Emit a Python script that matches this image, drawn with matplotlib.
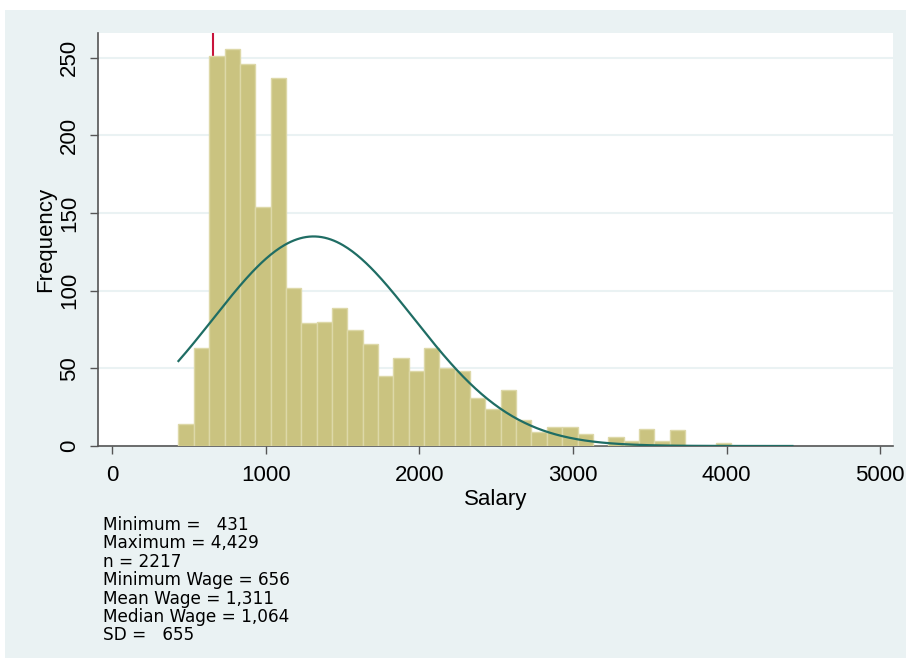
import numpy as np
import matplotlib
matplotlib.use("Agg")
import matplotlib.pyplot as plt
from matplotlib.patches import Rectangle

# ---- data ----
sal_min = 431
sal_max = 4429
n_obs = 2217
min_wage = 656
mean_wage = 1311
median_wage = 1064
sd_wage = 655
n_bins = 40
counts = [14, 63, 251, 256, 246, 154, 237, 102, 79, 80,
          89, 75, 66, 45, 57, 48, 63, 50, 48, 31,
          24, 36, 17, 9, 12, 12, 8, 0, 6, 3,
          11, 3, 10, 0, 0, 2, 0, 0, 0, 0]
xticks = [0, 1000, 2000, 3000, 4000, 5000]
yticks = [0, 50, 100, 150, 200, 250]
stats_lines = ["Minimum =   431", "Maximum = 4,429", "n = 2217",
               "Minimum Wage = 656", "Mean Wage = 1,311",
               "Median Wage = 1,064", "SD =   655"]

BG = "#EAF2F3"
BAR = "#CAC380"
BAR_EDGE = "#DDD8A8"
CURVE = "#1F6D64"
RED = "#C8143C"
AXC = "#555555"

W, H = 911, 661
fig = plt.figure(figsize=(W / 100, H / 100), dpi=100, facecolor="white")
fig.patches.append(Rectangle((5 / W, 3 / H), 901 / W, 648 / H,
                             transform=fig.transFigure, facecolor=BG,
                             edgecolor="none", zorder=-10))

ax = fig.add_axes([98 / W, 1 - 446 / H, (893 - 98) / W, (446 - 33) / H])
ax.set_zorder(1)
ax.set_facecolor("white")
ax.set_axisbelow(True)

bw = (sal_max - sal_min) / n_bins
edges = sal_min + bw * np.arange(n_bins + 1)
ax.bar(edges[:-1], counts, width=bw, align="edge", color=BAR,
       edgecolor=BAR_EDGE, linewidth=1.0, zorder=3)

# normal density overlay (fitted from mean / sd)
xs = np.linspace(sal_min, sal_max, 400)
ys = n_obs * bw * np.exp(-0.5 * ((xs - mean_wage) / sd_wage) ** 2) / (sd_wage * np.sqrt(2 * np.pi))
ax.plot(xs, ys, color=CURVE, linewidth=1.6, zorder=4)

ax.axvline(min_wage, color=RED, linewidth=1.5, zorder=2)

ax.set_xlim(-93, 5084)
ax.set_ylim(0, 266)
ax.set_xticks(xticks)
ax.set_yticks(yticks)
ax.yaxis.grid(True, color=BG, linewidth=1.5)
ax.xaxis.grid(False)

for s in ["top", "right"]:
    ax.spines[s].set_visible(False)
for s in ["left", "bottom"]:
    ax.spines[s].set_color(AXC)
    ax.spines[s].set_linewidth(1.2)

tfont = dict(family=["Liberation Sans", "DejaVu Sans"], size=16)
ax.tick_params(axis="both", colors=AXC, length=6, width=1.0, labelcolor="black")
ax.tick_params(axis="x", pad=8)
ax.tick_params(axis="y", pad=7)
ax.set_xticklabels([str(v) for v in xticks], **tfont)
ax.set_yticklabels([str(v) for v in yticks], rotation=90, va="center", **tfont)
ax.set_xlabel("Salary", labelpad=2, **tfont)
ax.set_ylabel("Frequency", labelpad=2, **tfont)

y0 = 530
for i, line in enumerate(stats_lines):
    fig.text(103 / W, 1 - (y0 + i * 18.4) / H, line, ha="left", va="baseline",
             family="DejaVu Sans", fontsize=12.2, color="black")

fig.savefig("out.png", dpi=100, facecolor=fig.get_facecolor())
